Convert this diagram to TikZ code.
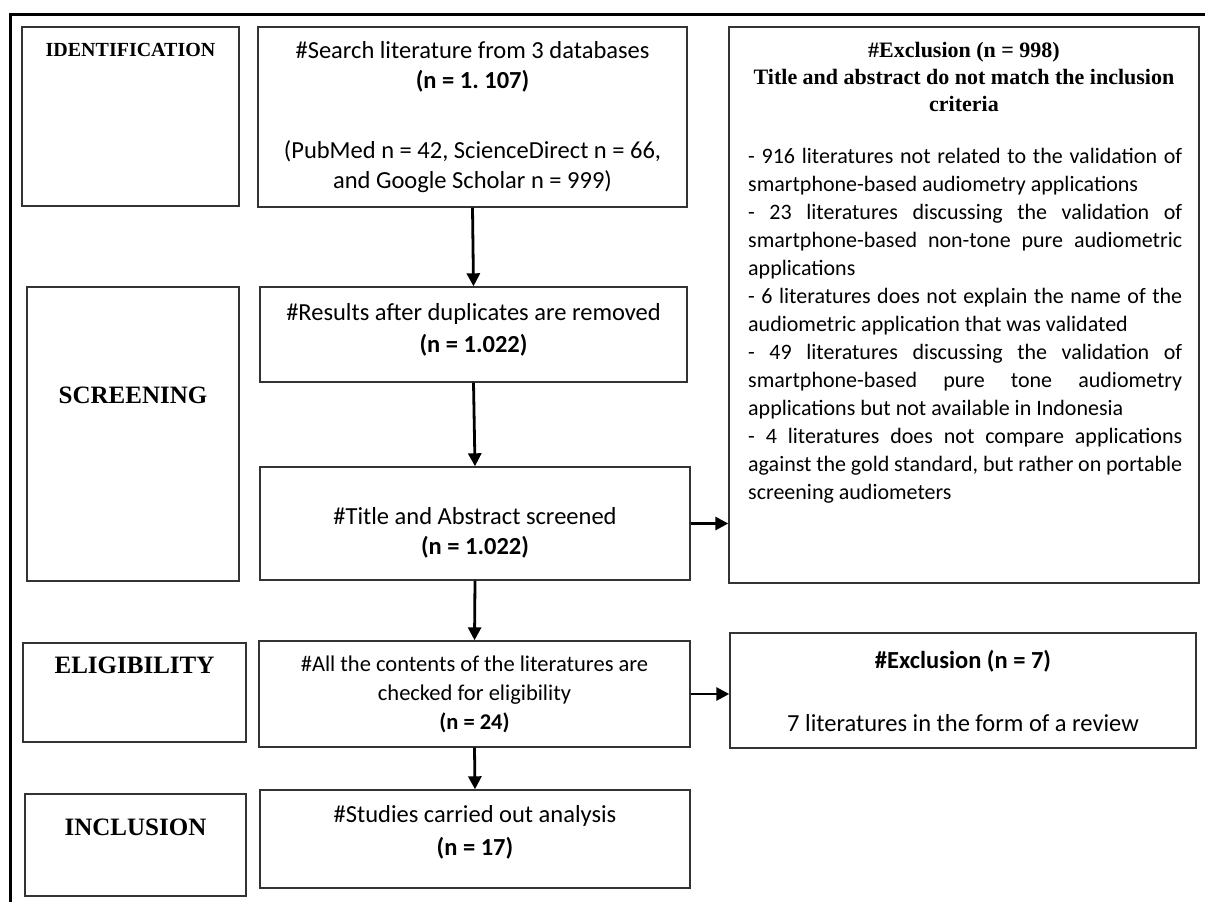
\documentclass[tikz,border=0pt]{standalone}
\usepackage{fontspec}
\setmainfont{Carlito}
\newfontfamily\timesfont{Liberation Serif}
\usetikzlibrary{arrows.meta,positioning}

\tikzset{
  box/.style={draw=black!80, line width=1.4pt, inner sep=0pt, align=center,
    font=\fontsize{24.5}{30}\selectfont},
  boxtext/.style={inner sep=0pt, align=center, font=\fontsize{24.5}{#1}\selectfont},
  stage/.style={inner sep=0pt, font=\timesfont\bfseries\fontsize{25}{28}\selectfont},
  flow/.style={-{Triangle[length=13pt,width=13pt]}, line width=2.8pt}
}
\newcommand{\justline}[1]{\makebox[434pt][s]{#1}}

\begin{document}
\begin{tikzpicture}[x=1pt, y=-1pt]
\useasboundingbox (0,0) rectangle (1205,902);

% outer frame
\draw[line width=3pt] (1205,14) -| (10,902);

% stage column
\node[box, minimum width=217pt, minimum height=179pt] (idbox) at (130.5,116.5) {};
\node[stage, font=\timesfont\bfseries\fontsize{20}{22}\selectfont] (idtext) at (130.5,50) {IDENTIFICATION};
\node[box, minimum width=212pt, minimum height=294pt] (scrbox) at (133,434) {};
\node[stage] (scrtext) at (133,395) {SCREENING};
\node[box, minimum width=223pt, minimum height=99pt] (elgbox) at (134.5,692.5) {};
\node[stage] (elgtext) at (134.5,665) {ELIGIBILITY};
\node[box, minimum width=221pt, minimum height=102pt] (incbox) at (135.5,845) {};
\node[stage] (inctext) at (135.5,827) {INCLUSION};

% main flow
\node[box, minimum width=429pt, minimum height=180pt] (search) at (472.5,117)
  {\#Search literature from 3 databases\\ \textbf{(n = 1.\ 107)}\\[40pt]
   (PubMed n = 42, ScienceDirect n = 66,\\ and Google Scholar n = 999)};
\node[box, minimum width=427pt, minimum height=95pt] (results) at (473.5,334.5) {};
\node[boxtext=32] (resultstext) at (473.5,329.5)
  {\#Results after duplicates are removed\\ \textbf{(n = 1.022)}};
\node[box, minimum width=430pt, minimum height=113pt] (title) at (475,523.5) {};
\node[boxtext=30] (titletext) at (475,533)
  {\#Title and Abstract screened\\ \textbf{(n = 1.022)}};
\node[box, minimum width=431pt, minimum height=106pt,
  font=\fontsize{22.5}{29}\selectfont] (check) at (474.5,694)
  {\#All the contents of the literatures are\\ checked for eligibility\\ \textbf{(n = 24)}};
\node[box, minimum width=430pt, minimum height=98pt] (studies) at (475,839) {};
\node[boxtext=33] (studiestext) at (475,832)
  {\#Studies carried out analysis\\ \textbf{(n = 17)}};

% exclusions
\node[box, minimum width=470pt, minimum height=556pt] (excl1) at (964,305) {};
\node[inner sep=0pt, anchor=north, align=center,
  font=\timesfont\bfseries\fontsize{22}{27}\selectfont] (excltitle) at (964,42)
  {\#Exclusion (n = 998)\\ Title and abstract do not match the inclusion\\ criteria};
\node[inner sep=0pt, anchor=north west, align=left,
  font=\fontsize{22}{28}\selectfont] (excllist) at (748,148)
  {\justline{- 916 literatures not related to the validation of}\\
   smartphone-based audiometry applications\\
   \justline{- 23 literatures discussing the validation of}\\
   \justline{smartphone-based non-tone pure audiometric}\\
   applications\\
   \justline{- 6 literatures does not explain the name of the}\\
   audiometric application that was validated\\
   \justline{- 49 literatures discussing the validation of}\\
   \justline{smartphone-based pure tone audiometry}\\
   applications but not available in Indonesia\\
   \justline{- 4 literatures does not compare applications}\\
   \justline{against the gold standard, but rather on portable}\\
   screening audiometers};
\node[box, minimum width=466pt, minimum height=115pt] (excl2) at (963,690.5)
  {\textbf{\#Exclusion (n = 7)}\\[33pt] 7 literatures in the form of a review};

% arrows
\draw[flow] (search.south) -- (results.north);
\draw[flow] (results.south) -- (title.north);
\draw[flow] (title.south) -- (check.north);
\draw[flow] (check.south) -- (studies.north);
\draw[flow] (title.east) -- (title.east -| excl1.west);
\draw[flow] (check.east) -- (check.east -| excl2.west);
\end{tikzpicture}
\end{document}
